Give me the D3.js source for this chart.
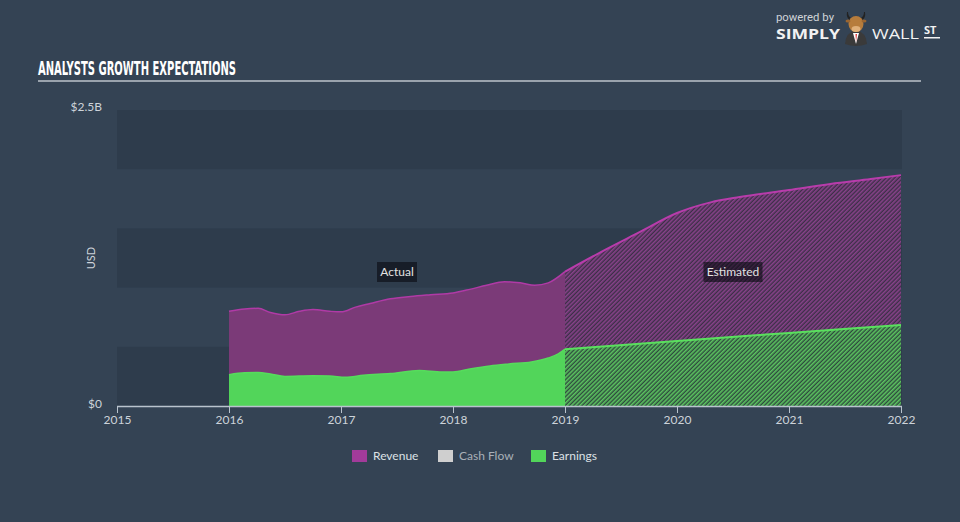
<!DOCTYPE html>
<html><head><meta charset="utf-8">
<script src="https://cdn.jsdelivr.net/npm/d3@7"></script>
<style>
html,body{margin:0;padding:0;background:#344354;}
svg{display:block;}
</style></head>
<body>
<svg id="chart" width="960" height="522"></svg>
<script>
// ---- data ----
const yearTicks = [2015, 2016, 2017, 2018, 2019, 2020, 2021, 2022];
const revenueActualT = [2016.0, 2016.14, 2016.26, 2016.37, 2016.5, 2016.63, 2016.75, 2016.9, 2017.0, 2017.13, 2017.26, 2017.44, 2017.62, 2017.8, 2018.0, 2018.15, 2018.3, 2018.46, 2018.6, 2018.73, 2018.85, 2019.0];
const revenueActualV = [0.80, 0.82, 0.825, 0.79, 0.77, 0.80, 0.815, 0.80, 0.795, 0.835, 0.865, 0.905, 0.925, 0.94, 0.955, 0.985, 1.02, 1.05, 1.04, 1.02, 1.04, 1.135];
const revenueEstT = [2019.0, 2019.3, 2019.67, 2020.0, 2020.3, 2020.56, 2021.0, 2021.37, 2021.73, 2022.0];
const revenueEstV = [1.135, 1.29, 1.47, 1.63, 1.72, 1.765, 1.824, 1.875, 1.917, 1.95];
const earningsActualT = [2016.0, 2016.14, 2016.26, 2016.37, 2016.5, 2016.75, 2016.9, 2017.04, 2017.2, 2017.44, 2017.7, 2017.9, 2018.0, 2018.15, 2018.33, 2018.5, 2018.7, 2018.85, 2018.94, 2019.0];
const earningsActualV = [0.265, 0.28, 0.283, 0.27, 0.25, 0.255, 0.253, 0.242, 0.26, 0.274, 0.30, 0.287, 0.287, 0.312, 0.338, 0.355, 0.372, 0.405, 0.44, 0.48];
const earningsEstT = [2019.0, 2020.0, 2021.0, 2022.0];
const earningsEstV = [0.48, 0.55, 0.617, 0.684];
const yTickValues = [0, 2.5];
const yTickLabels = ["$0", "$2.5B"];
const legendNames = ["Revenue", "Cash Flow", "Earnings"];
const legendColors = ["#a23b9a", "#cfcfcf", "#52d55a"];

// ---- chart ----
const svg = d3.select("#chart");
const x = d3.scaleLinear().domain([2015, 2022]).range([117, 901]);
const y = d3.scaleLinear().domain([0, 2.5]).range([406, 110]);

const defs = svg.append("defs");
function hatch(id, base, stripe) {
  const p = defs.append("pattern").attr("id", id).attr("patternUnits", "userSpaceOnUse")
    .attr("width", 3).attr("height", 3).attr("patternTransform", "rotate(45)");
  p.append("rect").attr("width", 3).attr("height", 3).attr("fill", base);
  p.append("rect").attr("width", 1.6).attr("height", 3).attr("fill", stripe);
}
hatch("hRev", "#3c2f47", "#88428a");
hatch("hEarn", "#2e4a3e", "#5cc460");

// title
svg.append("text").attr("x", 38).attr("y", 75).text("ANALYSTS GROWTH EXPECTATIONS")
  .attr("font-family", "'Liberation Sans Narrow', 'DejaVu Sans Condensed', sans-serif")
  .attr("font-weight", "bold").attr("font-size", 20).attr("fill", "#ffffff")
  .attr("textLength", 198).attr("lengthAdjust", "spacingAndGlyphs");
svg.append("rect").attr("x", 38).attr("y", 80).attr("width", 883).attr("height", 2).attr("fill", "#9aa3ad");

// logo
const logo = svg.append("g");
logo.append("text").attr("x", 776).attr("y", 21).text("powered by")
  .attr("font-family", "Roboto, sans-serif").attr("font-size", 10).attr("fill", "#d0d4d8")
  .attr("textLength", 58).attr("lengthAdjust", "spacingAndGlyphs");
logo.append("text").attr("x", 776).attr("y", 39).text("SIMPLY")
  .attr("font-family", "'Open Sans', sans-serif").attr("font-weight", "bold").attr("font-size", 15).attr("fill", "#f2f2f2")
  .attr("textLength", 64).attr("lengthAdjust", "spacingAndGlyphs");
logo.append("text").attr("x", 872).attr("y", 39).text("WALL")
  .attr("font-family", "'Open Sans', sans-serif").attr("font-size", 15).attr("fill", "#f2f2f2")
  .attr("textLength", 47).attr("lengthAdjust", "spacingAndGlyphs");
logo.append("text").attr("x", 924).attr("y", 34).text("ST")
  .attr("font-family", "'Open Sans', sans-serif").attr("font-weight", "bold").attr("font-size", 11).attr("fill", "#f2f2f2");
logo.append("rect").attr("x", 924).attr("y", 37).attr("width", 16).attr("height", 1.5).attr("fill", "#f2f2f2");
// bull
logo.append("path").attr("d", "M845,44 Q846,32 856,30 Q866,32 867,44 Q856,48 845,44 Z").attr("fill", "#3a3a3a");
logo.append("path").attr("d", "M853,33 L856,44 L859,33 Z").attr("fill", "#ffffff");
logo.append("path").attr("d", "M855.5,34 L856,42 L857,34 Z").attr("fill", "#d33");
logo.append("path").attr("d", "M847,12 Q846,18 850,20 L851,18 Q848,16 848,12 Z M865,12 Q866,18 862,20 L861,18 Q864,16 864,12 Z").attr("fill", "#222");
logo.append("ellipse").attr("cx", 856).attr("cy", 24).attr("rx", 7.5).attr("ry", 8).attr("fill", "#b67c3c");
logo.append("ellipse").attr("cx", 856).attr("cy", 29).attr("rx", 4.5).attr("ry", 3).attr("fill", "#e0b07a");
logo.append("ellipse").attr("cx", 848).attr("cy", 21).attr("rx", 2.5).attr("ry", 1.5).attr("fill", "#9a6530");
logo.append("ellipse").attr("cx", 864).attr("cy", 21).attr("rx", 2.5).attr("ry", 1.5).attr("fill", "#9a6530");

// background bands
const bands = [[0, 0.5], [1, 1.5], [2, 2.5]];
svg.append("g").selectAll("rect").data(bands).join("rect")
  .attr("x", x(2015)).attr("width", x(2022) - x(2015) + 1)
  .attr("y", d => y(d[1])).attr("height", d => y(d[0]) - y(d[1]))
  .attr("fill", "#2e3c4c");

const zip = (t, v) => t.map((d, i) => ({t: d, v: v[i]}));
const revA = zip(revenueActualT, revenueActualV);
const revE = zip(revenueEstT, revenueEstV);
const earnA = zip(earningsActualT, earningsActualV);
const earnE = zip(earningsEstT, earningsEstV);

const area = d3.area().x(d => x(d.t)).y0(y(0)).y1(d => y(d.v)).curve(d3.curveMonotoneX);
const line = d3.line().x(d => x(d.t)).y(d => y(d.v)).curve(d3.curveMonotoneX);

const g = svg.append("g");
g.append("path").attr("d", area(revA)).attr("fill", "#7b3a78");
g.append("path").attr("d", line(revA)).attr("fill", "none").attr("stroke", "#b03aa6").attr("stroke-width", 1.5);
g.append("path").attr("d", area(revE)).attr("fill", "url(#hRev)");
g.append("path").attr("d", line(revE)).attr("fill", "none").attr("stroke", "#b83cab").attr("stroke-width", 2);
g.append("path").attr("d", area(earnA)).attr("fill", "#52d55a");
g.append("path").attr("d", line(earnA)).attr("fill", "none").attr("stroke", "#56dc5c").attr("stroke-width", 1.5);
g.append("path").attr("d", area(earnE)).attr("fill", "url(#hEarn)");
g.append("path").attr("d", line(earnE)).attr("fill", "none").attr("stroke", "#5ae05e").attr("stroke-width", 2);

// x axis
const xAxis = svg.append("g").attr("transform", `translate(0,${y(0)})`)
  .call(d3.axisBottom(x).tickValues(yearTicks).tickFormat(d3.format("d")).tickSize(7).tickPadding(2));
xAxis.select(".domain").attr("stroke", "#b9c3cd").attr("stroke-width", 1.5).attr("d", `M${x(2015)},0.5H${x(2022)+1}`);
xAxis.selectAll(".tick line").attr("stroke", "#b9c3cd");
xAxis.selectAll(".tick text").attr("fill", "#cdd3da").attr("font-size", 12)
  .attr("font-family", "Lato, 'Open Sans', sans-serif");

// y labels
svg.append("g").selectAll("text").data(yTickValues).join("text")
  .attr("x", 102).attr("y", d => y(d) + (d === 0 ? -2 : -3)).attr("dy", "0.35em")
  .attr("text-anchor", "end").text((d, i) => yTickLabels[i])
  .attr("fill", "#cdd3da").attr("font-size", 12).attr("font-family", "Lato, 'Open Sans', sans-serif");
svg.append("text").attr("transform", `translate(95,${y(1.25)}) rotate(-90)`)
  .attr("text-anchor", "middle").text("USD").attr("fill", "#cdd3da").attr("font-size", 11)
  .attr("font-family", "Lato, 'Open Sans', sans-serif");

// period labels
function periodLabel(cx, txt, w) {
  const gg = svg.append("g");
  gg.append("rect").attr("x", cx - w / 2).attr("y", 262).attr("width", w).attr("height", 20)
    .attr("fill", "rgba(10,12,18,0.62)");
  gg.append("text").attr("x", cx).attr("y", 272).attr("dy", "0.35em").attr("text-anchor", "middle")
    .text(txt).attr("fill", "#e2e2e2").attr("font-size", 12).attr("font-family", "Lato, 'Open Sans', sans-serif");
}
periodLabel((x(2016) + x(2019)) / 2, "Actual", 40);
periodLabel((x(2019) + x(2022)) / 2, "Estimated", 59);

// legend
const legX = [352, 438, 531];
const leg = svg.append("g").selectAll("g").data(legendNames).join("g")
  .attr("transform", (d, i) => `translate(${legX[i]},450)`);
leg.append("rect").attr("width", 15).attr("height", 12).attr("fill", (d, i) => legendColors[i]);
leg.append("text").attr("x", 21).attr("y", 6).attr("dy", "0.35em").text(d => d)
  .attr("fill", (d, i) => i === 1 ? "#a9b0b8" : "#dde1e5").attr("font-size", 12)
  .attr("font-family", "Lato, 'Open Sans', sans-serif");
</script>
</body></html>
